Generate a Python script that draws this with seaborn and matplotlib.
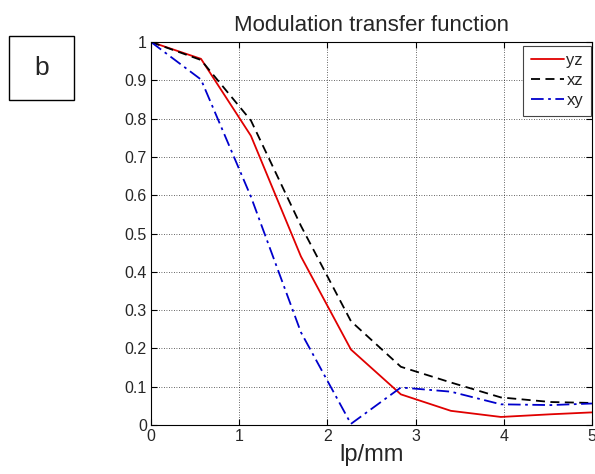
import matplotlib
matplotlib.use("Agg")
import matplotlib.pyplot as plt
import matplotlib.patches as mpatches
import seaborn as sns
import numpy as np

# frequenze (lp/mm) e curve MTF
lp_mm = [0.0, 0.567, 1.133, 1.7, 2.267, 2.833, 3.4, 3.967, 4.533, 5.1]
mtf_yz = [1.0, 0.956, 0.755, 0.44, 0.197, 0.08, 0.037, 0.021, 0.028, 0.034]
mtf_xz = [1.0, 0.953, 0.795, 0.52, 0.271, 0.152, 0.111, 0.072, 0.06, 0.057]
mtf_xy = [1.0, 0.902, 0.596, 0.242, 0.003, 0.098, 0.087, 0.054, 0.052, 0.057]

xticks = [0, 1, 2, 3, 4, 5]
yticks = [0, 0.1, 0.2, 0.3, 0.4, 0.5, 0.6, 0.7, 0.8, 0.9, 1]
ytick_labels = ["0", "0.1", "0.2", "0.3", "0.4", "0.5", "0.6", "0.7", "0.8", "0.9", "1"]

sns.set_style("white")
plt.rcParams['font.family'] = ['Liberation Sans', 'DejaVu Sans']

fig = plt.figure(figsize=(5.95, 4.74), dpi=100)
ax = fig.add_axes([151 / 595, 1 - 425 / 474, 441 / 595, 383 / 474])

sns.lineplot(x=lp_mm, y=mtf_yz, ax=ax, color="#e00000", linestyle="-", lw=1.3, label="yz")
sns.lineplot(x=lp_mm, y=mtf_xz, ax=ax, color="black", linestyle=(0, (5, 3)), lw=1.3, label="xz")
sns.lineplot(x=lp_mm, y=mtf_xy, ax=ax, color="#0000cc", linestyle=(0, (7, 2.5, 1.5, 2.5)), lw=1.3, label="xy")

ax.set_xlim(0, 5)
ax.set_ylim(0, 1)
ax.set_xticks(xticks)
ax.set_yticks(yticks)
ax.set_yticklabels(ytick_labels)
ax.tick_params(direction="in", length=4, labelsize=11.5, pad=3, top=True, right=True,
               bottom=True, left=True, color="black")
ax.grid(True, linestyle=(0, (1, 2)), color="black", lw=0.6, alpha=0.8)
for s in ax.spines.values():
    s.set_color("black")
    s.set_linewidth(0.8)

ax.set_title("Modulation transfer function", fontsize=16, pad=8)
ax.set_xlabel("lp/mm", fontsize=17, labelpad=0)
ax.set_ylabel("")

leg = ax.legend(loc="upper right", bbox_to_anchor=(0.997, 0.99), fontsize=12,
                handlelength=2.0, handletextpad=0.15, borderpad=0.45, labelspacing=0.3,
                fancybox=False, framealpha=1, borderaxespad=0.0)
leg.get_frame().set_edgecolor("#444444")
leg.get_frame().set_linewidth(0.8)

# riquadro con la lettera del pannello
box = mpatches.Rectangle((9 / 595, 1 - 100 / 474), 65 / 595, 64 / 474, transform=fig.transFigure,
                         facecolor="white", edgecolor="black", lw=1.0)
fig.patches.append(box)
fig.text(42 / 595, 1 - 68 / 474, "b", fontsize=19, ha="center", va="center")

fig.savefig("out.png", dpi=100, facecolor="white")
